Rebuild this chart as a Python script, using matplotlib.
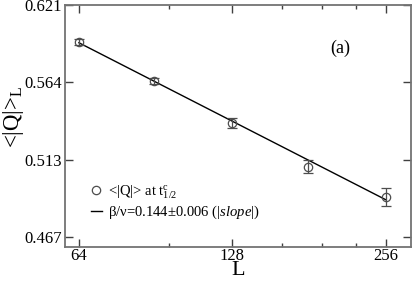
import numpy as np
import matplotlib
matplotlib.use("Agg")
import matplotlib.pyplot as plt
from matplotlib.lines import Line2D
from matplotlib.ticker import FixedLocator, NullFormatter

plt.rcParams['font.family'] = ['Liberation Serif', 'DejaVu Serif']
plt.rcParams['mathtext.fontset'] = 'custom'
plt.rcParams['mathtext.rm'] = 'Liberation Serif'
plt.rcParams['mathtext.it'] = 'Liberation Serif:italic'

# data
L_vals = [64, 90, 128, 180, 256]
Q_vals = [0.5934, 0.5657, 0.5368, 0.5088, 0.4903]
Q_err = [0.002, 0.002, 0.0033, 0.004, 0.0055]

fit_slope = -0.1396
fit_at_64 = 0.5929

x_ticks = [64, 128, 256]
x_minor = [96, 160, 192, 224]
y_ticks = [0.4666, 0.5133, 0.5646, 0.6211]
y_ticklabels = ['0.467', '0.513', '0.564', '0.621']

fig = plt.figure(figsize=(4.15, 2.81), dpi=100)
ax = fig.add_axes([0.1566, 0.121, 0.8338, 0.861])
ax.set_xscale('log')
ax.set_yscale('log')

Lfit = np.array([L_vals[0], L_vals[-1]], dtype=float)
ax.plot(Lfit, fit_at_64 * (Lfit / 64.0) ** fit_slope, color='black', lw=1.0)
ax.errorbar(L_vals, Q_vals, yerr=Q_err, fmt='o', mfc='none', mec='0.3',
            ecolor='0.3', elinewidth=0.9, capsize=3.5, capthick=0.9,
            markersize=6, mew=0.9)

ax.set_xlim(60.1, 287)
ax.set_ylim(0.4609, 0.6211)

ax.xaxis.set_major_locator(FixedLocator(x_ticks))
ax.xaxis.set_minor_locator(FixedLocator(x_minor))
ax.xaxis.set_minor_formatter(NullFormatter())
ax.set_xticklabels([str(v) for v in x_ticks])
ax.yaxis.set_major_locator(FixedLocator(y_ticks))
ax.yaxis.set_minor_locator(FixedLocator([]))
ax.yaxis.set_minor_formatter(NullFormatter())
ax.set_yticklabels(y_ticklabels)

ax.tick_params(which='both', direction='in', top=True, right=True,
               labelsize=12, color='0.25', width=1.0)
ax.tick_params(which='major', length=6, pad=2)
ax.tick_params(axis='x', which='major', pad=1)
ax.tick_params(which='minor', length=3)
for s in ax.spines.values():
    s.set_color('0.45')
    s.set_linewidth(1.3)

ax.set_xlabel('L', fontsize=16)
ax.xaxis.set_label_coords(0.5, -0.058)
ax.set_ylabel(r'<|Q|>$_{\rm L}$', fontsize=16.5)
ax.yaxis.set_label_coords(-0.113, 0.54)

ax.text(0.795, 0.82, '(a)', transform=ax.transAxes, fontsize=13,
        ha='center', va='center')

handles = [
    Line2D([], [], ls='none', marker='o', mfc='none', mec='0.3',
           markersize=6, mew=0.9),
    Line2D([], [], color='black', lw=1.0),
]
labels = [r'<|Q|> at t$^{\rm c}_{\rm 1/2}$',
          'β/ν=0.144±0.006 (|$slope$|)']
ax.legend(handles, labels, loc='lower left',
          bbox_to_anchor=(0.075, 0.108), frameon=False, fontsize=10.5,
          handlelength=0.75, handletextpad=0.4, labelspacing=0.2,
          borderaxespad=0, borderpad=0)

fig.savefig('out.png', dpi=100)
